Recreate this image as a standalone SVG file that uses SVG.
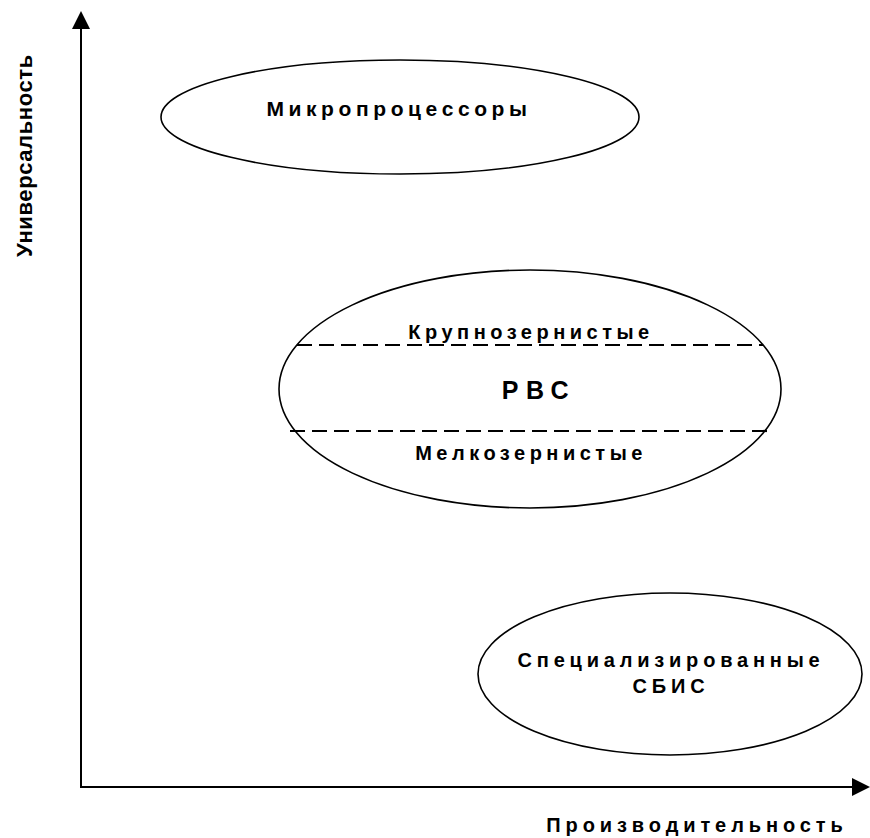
<svg xmlns="http://www.w3.org/2000/svg" width="870" height="838" viewBox="0 0 870 838">
<style>
.node{fill:#fff;stroke:#000;stroke-width:1.6}
.lbl{font-family:"Liberation Sans",Arial,sans-serif;font-weight:bold;fill:#000;text-anchor:middle}
.axis{stroke:#000;stroke-width:2;fill:none}
.dash{stroke:#000;stroke-width:2.2;stroke-dasharray:15 7;fill:none}
</style>
<rect width="870" height="838" fill="#fff"/>
<g id="connectors">
<line class="axis" x1="81" y1="787" x2="81" y2="28"/>
<polygon points="81,11 72,29 90,29" fill="#000"/>
<line class="axis" x1="80" y1="787" x2="854" y2="787"/>
<polygon points="870,787 852,778 852,796" fill="#000"/>
</g>
<g id="axis-y-label">
<text class="lbl" font-size="22" letter-spacing="0.6" style="text-anchor:start" transform="translate(32,257) rotate(-90)">Универсальность</text>
</g>
<g id="axis-x-label">
<text class="lbl" font-size="20" letter-spacing="4.9" x="697" y="832">Производительность</text>
</g>
<g id="node-micro">
<ellipse class="node" cx="400" cy="117" rx="239" ry="57"/>
<text class="lbl" font-size="21" letter-spacing="4.6" x="399" y="116">Микропроцессоры</text>
</g>
<g id="node-rvs">
<ellipse class="node" cx="530" cy="389" rx="251" ry="119"/>
<line class="dash" x1="297" y1="345" x2="763" y2="345"/>
<line class="dash" x1="290" y1="431" x2="768" y2="431"/>
<text class="lbl" font-size="20" letter-spacing="4.5" x="531" y="339">Крупнозернистые</text>
<text class="lbl" font-size="25" letter-spacing="7.5" x="539" y="399">РВС</text>
<text class="lbl" font-size="20" letter-spacing="4.5" x="531" y="460">Мелкозернистые</text>
</g>
<g id="node-vlsi">
<ellipse class="node" cx="670" cy="674" rx="192" ry="81"/>
<text class="lbl" font-size="20" letter-spacing="4.8" x="671" y="667">Специализированные</text>
<text class="lbl" font-size="20" letter-spacing="4.8" x="671" y="693">СБИС</text>
</g>
</svg>
